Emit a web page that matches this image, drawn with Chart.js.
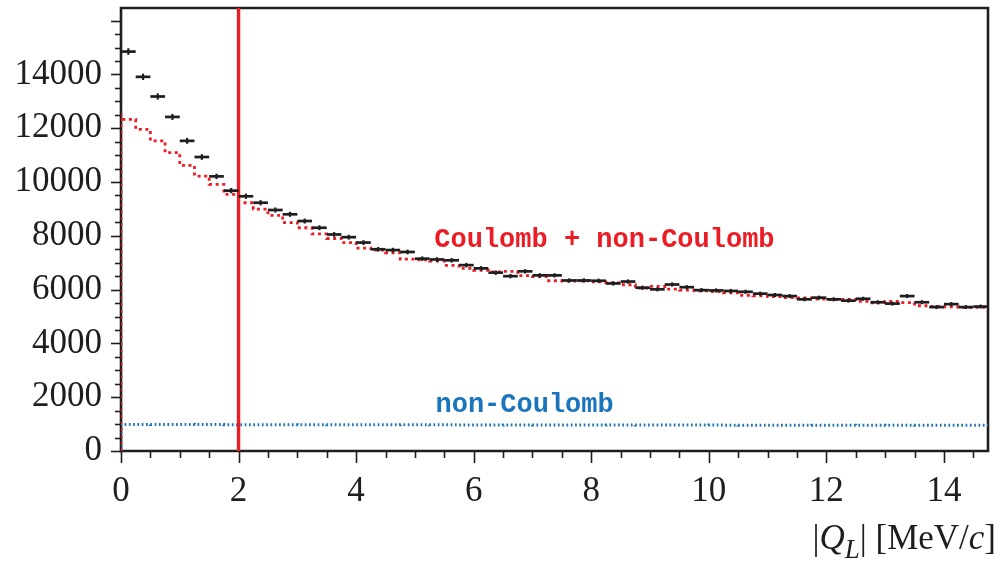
<!DOCTYPE html>
<html>
<head>
<meta charset="utf-8">
<script src="https://cdn.jsdelivr.net/npm/chart.js@4.4.1/dist/chart.umd.min.js"></script>
<style>
  html, body { margin: 0; padding: 0; background: #ffffff; }
  #wrap { width: 1006px; height: 569px; }
</style>
</head>
<body>
<div id="wrap"><canvas id="c" width="1006" height="569"></canvas></div>
<script>
// |Q_L| distribution, 0.25 MeV/c bins from 0 to 14.75 MeV/c
const binWidth = 0.25;
const xMin = 0;
const xMax = 14.75;
const yMin = 0;
const yMax = 16470;
const cutValue = 2;

const xTickValues = [0, 2, 4, 6, 8, 10, 12, 14];
const yTickValues = [0, 2000, 4000, 6000, 8000, 10000, 12000, 14000];

// measured counts per bin
const measured = [
  14850, 13910, 13180, 12420, 11530, 10930, 10210, 9680, 9470, 9230,
  8960, 8800, 8550, 8300, 8050, 7950, 7750, 7500, 7470, 7400,
  7150, 7120, 7090, 6910, 6790, 6630, 6500, 6680, 6530, 6530,
  6340, 6340, 6330, 6230, 6300, 6070, 6010, 6190, 6090, 5980,
  5970, 5950, 5920, 5850, 5800, 5760, 5640, 5700, 5640, 5590,
  5660, 5530, 5480, 5760, 5530, 5350, 5460, 5350, 5370
];

// fitted Coulomb + non-Coulomb contribution per bin
const fitTotal = [
  12520, 12330, 11960, 11530, 11090, 10620, 10220, 9910, 9540, 9230,
  8990, 8760, 8490, 8300, 8070, 7900, 7750, 7540, 7470, 7370,
  7130, 7110, 7060, 6900, 6790, 6720, 6660, 6680, 6520, 6480,
  6330, 6320, 6330, 6290, 6250, 6180, 6060, 6120, 6020, 5980,
  5950, 5930, 5880, 5790, 5770, 5740, 5700, 5690, 5650, 5630,
  5640, 5560, 5510, 5560, 5520, 5400, 5380, 5360, 5340
];

// fitted non-Coulomb contribution per bin
const fitNonCoulomb = [
  985, 986, 984, 983, 984, 982, 981, 982, 980, 980,
  979, 980, 978, 977, 978, 976, 977, 975, 975, 974,
  975, 973, 972, 973, 971, 971, 970, 971, 969, 968,
  969, 967, 967, 966, 967, 965, 964, 965, 963, 963,
  962, 963, 961, 960, 961, 959, 959, 958, 959, 957,
  957, 956, 957, 955, 955, 954, 955, 953, 953
];

const labelTotal = 'Coulomb + non-Coulomb';
const labelNonCoulomb = 'non-Coulomb';

const RED = '#ec1c24';
const BLUE = '#1b75bc';
const INK = '#1e1e1e';
const SERIF = '"Liberation Serif", "DejaVu Serif", serif';
const MONO = '"Liberation Mono", "DejaVu Sans Mono", monospace';

// step-histogram outline: rises from zero at the left edge, then one step per bin
function histogramPoints(values) {
  const pts = [{ x: xMin, y: 0 }];
  values.forEach((v, i) => pts.push({ x: xMin + i * binWidth, y: v }));
  pts.push({ x: xMin + values.length * binWidth, y: values[values.length - 1] });
  return pts;
}

const measuredPoints = measured.map((v, i) => ({ x: xMin + (i + 0.5) * binWidth, y: v }));

// frame plus outward major/minor tick marks, positioned by the scales
const framePlugin = {
  id: 'frame',
  beforeDatasetsDraw(chart) {
    const { ctx, chartArea: a, scales: { x, y } } = chart;
    ctx.save();
    ctx.strokeStyle = INK;
    ctx.lineCap = 'butt';

    ctx.lineWidth = 1.6;
    for (let v = 0; v <= yMax; v += 500) {
      const py = Math.round(y.getPixelForValue(v)) + 0.5;
      const len = (v % 2000 === 0) ? 10 : 6;
      ctx.beginPath();
      ctx.moveTo(a.left - len, py);
      ctx.lineTo(a.left, py);
      ctx.stroke();
    }
    for (let v = 0; v <= xMax + 1e-9; v += 0.5) {
      const px = Math.round(x.getPixelForValue(v)) + 0.5;
      const len = (Math.abs(v % 2) < 1e-9) ? 12 : 7;
      ctx.beginPath();
      ctx.moveTo(px, a.bottom);
      ctx.lineTo(px, a.bottom + len);
      ctx.stroke();
    }

    ctx.lineWidth = 2.6;
    ctx.beginPath();
    ctx.moveTo(a.left, a.top);
    ctx.lineTo(a.right, a.top);
    ctx.lineTo(a.right, a.bottom);
    ctx.lineTo(a.left, a.bottom);
    ctx.closePath();
    ctx.stroke();
    ctx.restore();
  }
};

// measured points: horizontal bar over the bin, vertical statistical error
const errorBarPlugin = {
  id: 'errorBars',
  afterDatasetsDraw(chart) {
    const { ctx, scales: { x, y } } = chart;
    ctx.save();
    ctx.strokeStyle = INK;
    measuredPoints.forEach(p => {
      const x0 = x.getPixelForValue(p.x - binWidth / 2);
      const x1 = x.getPixelForValue(p.x + binWidth / 2);
      const xc = x.getPixelForValue(p.x);
      const yc = y.getPixelForValue(p.y);
      const err = Math.sqrt(p.y);
      ctx.lineWidth = 2.7;
      ctx.beginPath();
      ctx.moveTo(x0, yc);
      ctx.lineTo(x1, yc);
      ctx.stroke();
      ctx.lineWidth = 2.2;
      ctx.beginPath();
      ctx.moveTo(xc, y.getPixelForValue(p.y + err));
      ctx.lineTo(xc, y.getPixelForValue(p.y - err));
      ctx.stroke();
    });
    ctx.restore();
  }
};

// in-plot labels and the axis title
const textPlugin = {
  id: 'texts',
  afterDraw(chart) {
    const { ctx, scales: { x, y } } = chart;
    ctx.save();
    ctx.textBaseline = 'alphabetic';
    ctx.textAlign = 'left';
    ctx.font = 'bold 27px ' + MONO;
    ctx.fillStyle = RED;
    ctx.fillText(labelTotal, x.getPixelForValue(5.33), y.getPixelForValue(7600));
    ctx.fillStyle = BLUE;
    ctx.fillText(labelNonCoulomb, x.getPixelForValue(5.35), y.getPixelForValue(1450));

    // |Q_L| [MeV/c]
    const parts = [
      { t: '|', f: '35px ' + SERIF, dy: 0 },
      { t: 'Q', f: 'italic 35px ' + SERIF, dy: 0 },
      { t: 'L', f: 'italic 27px ' + SERIF, dy: 9 },
      { t: '|', f: '35px ' + SERIF, dy: 0 },
      { t: ' [MeV/', f: '35px ' + SERIF, dy: 0 },
      { t: 'c', f: 'italic 35px ' + SERIF, dy: 0 },
      { t: ']', f: '35px ' + SERIF, dy: 0 }
    ];
    let total = 0;
    parts.forEach(p => { ctx.font = p.f; p.w = ctx.measureText(p.t).width; total += p.w; });
    let px = 996 - total;
    const base = 549;
    ctx.fillStyle = INK;
    parts.forEach(p => {
      ctx.font = p.f;
      ctx.fillText(p.t, px, base + p.dy);
      px += p.w;
    });
    ctx.restore();
  }
};

new Chart(document.getElementById('c'), {
  type: 'line',
  data: {
    datasets: [
      {
        label: 'cut',
        data: [{ x: cutValue, y: yMin }, { x: cutValue, y: yMax }],
        borderColor: RED,
        borderWidth: 3.4,
        pointRadius: 0,
        order: 0
      },
      {
        label: labelTotal,
        data: histogramPoints(fitTotal),
        stepped: 'after',
        borderColor: RED,
        borderWidth: 2.8,
        borderDash: [3, 3.6],
        pointRadius: 0,
        order: 1
      },
      {
        label: labelNonCoulomb,
        data: histogramPoints(fitNonCoulomb),
        stepped: 'after',
        borderColor: BLUE,
        borderWidth: 3,
        borderDash: [1.7, 2.6],
        pointRadius: 0,
        order: 2
      },
      {
        label: 'data',
        data: measuredPoints,
        showLine: false,
        pointRadius: 0,
        order: 3
      }
    ]
  },
  options: {
    responsive: false,
    animation: false,
    devicePixelRatio: 1,
    layout: { padding: { left: 0, right: 18, top: 8, bottom: 0 } },
    plugins: { legend: { display: false }, tooltip: { enabled: false } },
    scales: {
      x: {
        type: 'linear',
        min: xMin,
        max: xMax,
        grid: { display: false, drawTicks: false },
        border: { display: false },
        afterBuildTicks: s => { s.ticks = xTickValues.map(v => ({ value: v })); },
        afterFit: s => { s.height = 118; s.paddingLeft = 0; s.paddingRight = 0; },
        ticks: {
          padding: 20,
          maxRotation: 0,
          autoSkip: false,
          color: INK,
          font: { family: SERIF, size: 35 },
          callback: v => String(v)
        }
      },
      y: {
        type: 'linear',
        min: yMin,
        max: yMax,
        grid: { display: false, drawTicks: false },
        border: { display: false },
        afterBuildTicks: s => { s.ticks = yTickValues.map(v => ({ value: v })); },
        afterFit: s => { s.width = 121; s.paddingTop = 0; s.paddingBottom = 0; },
        ticks: {
          padding: 19,
          autoSkip: false,
          color: INK,
          font: { family: SERIF, size: 35 },
          callback: v => String(v)
        }
      }
    }
  },
  plugins: [framePlugin, errorBarPlugin, textPlugin]
});
</script>
</body>
</html>
